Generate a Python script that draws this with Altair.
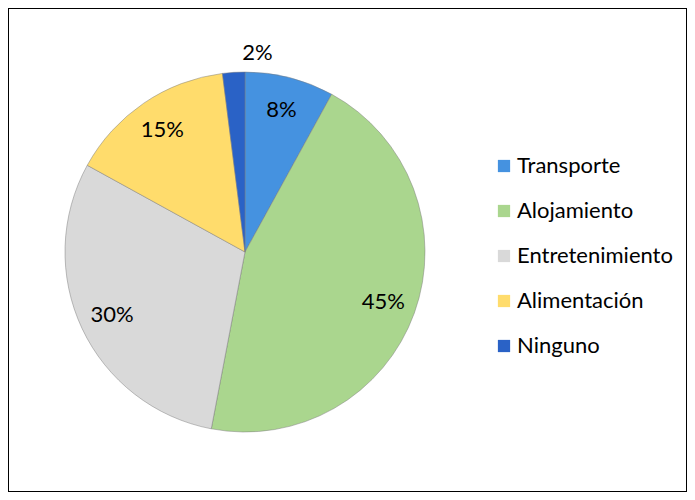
import altair as alt
import pandas as pd

categories = ["Transporte", "Alojamiento", "Entretenimiento", "Alimentación", "Ninguno"]
values = [8, 45, 30, 15, 2]
labels = ["8%", "45%", "30%", "15%", "2%"]
colors = ["#4592E0", "#AAD68E", "#D9D9D9", "#FFDC6C", "#2A62C6"]

df = pd.DataFrame({
    "cat": categories,
    "val": values,
    "label": labels,
    "order": list(range(len(categories))),
})

CX, CY = 237, 244
FONT = "Lato"

base = alt.Chart(df).encode(
    theta=alt.Theta("val:Q", stack=True),
    order=alt.Order("order:Q"),
)

pie = base.mark_arc(outerRadius=180, stroke="#7a7a7a", strokeWidth=0.8, strokeOpacity=0.6).encode(
    x=alt.value(CX),
    y=alt.value(CY),
    color=alt.Color(
        "cat:N",
        scale=alt.Scale(domain=categories, range=colors),
        sort=categories,
        legend=alt.Legend(
            title=None,
            orient="none",
            legendX=485,
            legendY=147,
            symbolType="square",
            symbolSize=150,
            symbolStrokeWidth=0,
            labelFont=FONT,
            labelFontSize=22,
            labelColor="#000000",
            labelOffset=2,
            rowPadding=23,
            padding=0,
            labelLimit=300,
        ),
    ),
)

text = base.transform_calculate(
    lr="datum.val < 5 ? 199 : 147"
).mark_text(font=FONT, fontSize=22, color="#000000", align="center", baseline="middle").encode(
    x=alt.value(CX),
    y=alt.value(CY),
    radius=alt.Radius("lr:Q", scale=None),
    text="label:N",
)

chart = alt.layer(pie, text).properties(
    width=679,
    height=484,
    autosize=alt.AutoSizeParams(type="none"),
    padding=0,
).configure_view(stroke="#000000", strokeWidth=2)

chart.save("out.html", embed_options={"renderer": "svg", "actions": False})
